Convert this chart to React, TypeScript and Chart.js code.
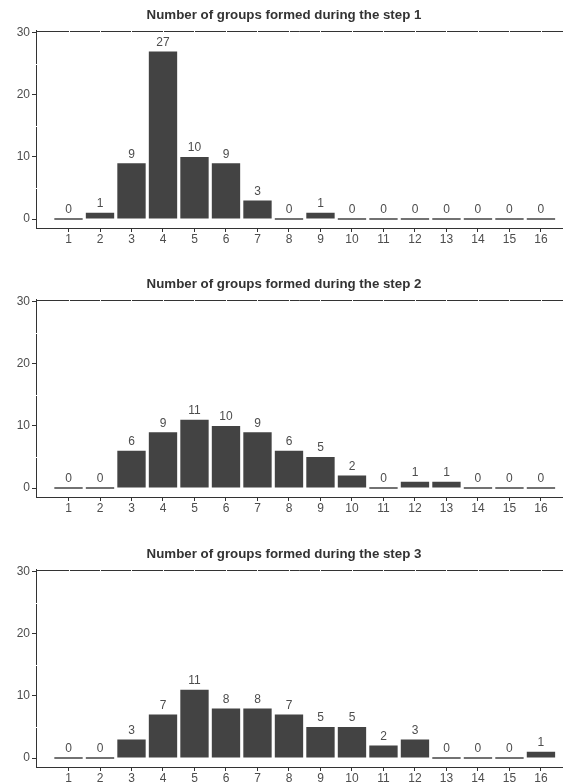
import React, { useEffect, useRef } from "react";
import { Chart, registerables } from "chart.js";

Chart.register(...registerables);

const categories = [1, 2, 3, 4, 5, 6, 7, 8, 9, 10, 11, 12, 13, 14, 15, 16];
const step1 = [0, 1, 9, 27, 10, 9, 3, 0, 1, 0, 0, 0, 0, 0, 0, 0];
const step2 = [0, 0, 6, 9, 11, 10, 9, 6, 5, 2, 0, 1, 1, 0, 0, 0];
const step3 = [0, 0, 3, 7, 11, 8, 8, 7, 5, 5, 2, 3, 0, 0, 0, 1];
const yTicks = [0, 10, 20, 30];
const titles = [
  "Number of groups formed during the step 1",
  "Number of groups formed during the step 2",
  "Number of groups formed during the step 3",
];
const series = [step1, step2, step3];

const W = 563;
const H = 269;
const FONT = "'Liberation Sans', Arial, Helvetica, sans-serif";
const BAR = "#434343";
const TXT = "#4d4d4d";

function Panel({ title, values }: { title: string; values: number[] }) {
  const ref = useRef<HTMLCanvasElement | null>(null);
  useEffect(() => {
    if (!ref.current) return;
    const decor = {
      id: "decor",
      afterDraw(chart: any) {
        const { ctx, chartArea, scales } = chart;
        const { left, right, top } = chartArea;
        const x = scales.x;
        const y = scales.y;
        ctx.save();
        ctx.strokeStyle = "#333";
        ctx.lineWidth = 1;
        ctx.beginPath();
        ctx.moveTo(left, Math.round(top) + 0.5);
        ctx.lineTo(right, Math.round(top) + 0.5);
        ctx.stroke();
        ctx.strokeStyle = "#fff";
        categories.forEach((c) => {
          const px = Math.round(x.getPixelForValue(c)) + 0.5;
          ctx.beginPath();
          ctx.moveTo(px, top - 1);
          ctx.lineTo(px, top + 2);
          ctx.stroke();
        });
        [5, 15, 25].forEach((v) => {
          const py = Math.round(y.getPixelForValue(v)) + 0.5;
          ctx.beginPath();
          ctx.moveTo(left - 1, py);
          ctx.lineTo(left + 2, py);
          ctx.stroke();
        });
        ctx.fillStyle = TXT;
        ctx.font = `12px ${FONT}`;
        ctx.textAlign = "center";
        ctx.textBaseline = "middle";
        values.forEach((v, i) => {
          const px = x.getPixelForValue(categories[i]);
          const py = y.getPixelForValue(v);
          ctx.fillText(String(v), px, py - 9);
        });
        ctx.fillStyle = "#333";
        ctx.font = `bold 13.3px ${FONT}`;
        ctx.fillText(title, 284, 15);
        ctx.restore();
      },
    };
    const chart = new Chart(ref.current, {
      type: "bar",
      data: {
        datasets: [
          {
            data: values.map((v, i) => ({ x: categories[i], y: v })),
            backgroundColor: BAR,
            borderWidth: 0,
            minBarLength: 1.3,
            categoryPercentage: 1,
            barPercentage: 0.9,
          } as any,
        ],
      },
      plugins: [decor],
      options: {
        animation: false,
        responsive: false,
        events: [],
        layout: { padding: { top: 30.5, left: 0, right: 0, bottom: 0 } },
        plugins: { legend: { display: false }, title: { display: false }, tooltip: { enabled: false } },
        scales: {
          x: {
            type: "linear",
            offset: false,
            min: -0.032,
            max: 16.7,
            afterBuildTicks: (s: any) => {
              s.ticks = categories.map((c) => ({ value: c }));
            },
            afterFit: (s: any) => {
              s.height = 41;
            },
            grid: { display: true, offset: false, drawOnChartArea: false, drawTicks: true, tickLength: 4, color: "#333" },
            border: { display: true, color: "#333", width: 1 },
            ticks: {
              color: TXT,
              font: { family: FONT, size: 12 },
              padding: 0,
              maxRotation: 0,
              autoSkip: false,
              callback: (v: any) => String(v),
            },
          },
          y: {
            type: "linear",
            min: -1.45,
            max: 30.4,
            afterBuildTicks: (s: any) => {
              s.ticks = yTicks.map((v) => ({ value: v }));
            },
            afterFit: (s: any) => {
              s.width = 36;
            },
            grid: { display: true, drawOnChartArea: false, drawTicks: true, tickLength: 4, color: "#333" },
            border: { display: true, color: "#333", width: 1 },
            ticks: {
              color: TXT,
              font: { family: FONT, size: 12 },
              padding: 2,
              callback: (v: any) => String(v),
            },
          },
        },
      } as any,
    });
    return () => chart.destroy();
  }, [title, values]);
  return <canvas ref={ref} width={W} height={H} style={{ display: "block", width: W, height: H }} />;
}

export default function App() {
  return (
    <div
      style={{
        position: "fixed",
        top: 0,
        left: 0,
        width: W,
        height: 784,
        overflow: "hidden",
        background: "#fff",
      }}
    >
      {series.map((vals, i) => (
        <div key={i} style={{ position: "absolute", top: i * 269.3, left: 0, width: W, height: H }}>
          <Panel title={titles[i]} values={vals} />
        </div>
      ))}
    </div>
  );
}
